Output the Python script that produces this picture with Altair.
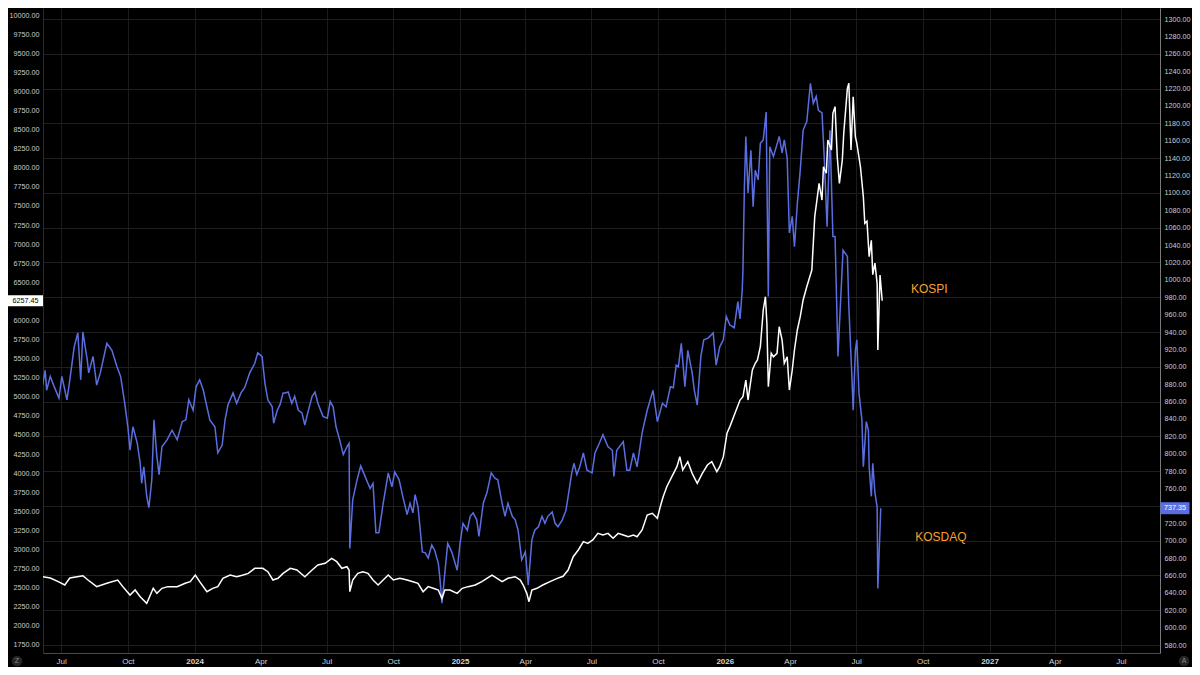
import altair as alt
import pandas as pd

# ---------------- data ----------------
# day offsets from 2023-05-30 and index levels
kosdaq_days = [0, 7, 10, 12, 17, 23, 29, 33, 40, 44, 50, 55, 59, 62, 68, 70, 76, 81, 86, 95,
               102, 109, 114, 119, 124, 127, 131, 137, 141, 143, 146, 150, 153, 157, 160, 164, 167, 171, 178, 185,
               192, 199, 204, 208, 214, 218, 223, 228, 233, 237, 244, 248, 254, 258, 262, 269, 274, 280, 285, 292,
               299, 303, 309, 313, 317, 323, 325, 330, 334, 338, 341, 345, 350, 354, 359, 364, 368, 372, 378, 382,
               386, 393, 399, 403, 407, 411, 416, 421, 426, 429, 430, 434, 440, 445, 451, 458, 462, 466, 470, 476,
               483, 488, 492, 498, 503, 509, 513, 517, 520, 524, 530, 534, 538, 543, 547, 552, 554, 557, 561, 565,
               571, 578, 582, 586, 592, 596, 600, 605, 608, 614, 619, 625, 630, 634, 640, 644, 648, 654, 658, 662,
               667, 672, 676, 681, 685, 690, 695, 699, 703, 709, 713, 717, 723, 728, 731, 736, 739, 743, 747, 752,
               757, 764, 768, 774, 779, 786, 792, 794, 798, 807, 812, 816, 821, 826, 833, 840, 848, 854, 861, 866,
               872, 876, 880, 883, 887, 892, 896, 902, 905, 909, 914, 918, 924, 931, 935, 940, 945, 949, 954, 960,
               965, 968, 971, 972, 974, 976, 979, 983, 986, 989, 993, 996, 1000, 1004, 1007, 1009, 1014, 1018, 1022, 1026,
               1029, 1033, 1036, 1040, 1043, 1047, 1051, 1055, 1060, 1065, 1069, 1073, 1076, 1081, 1084, 1088, 1092, 1096, 1099, 1103,
               1110, 1116, 1118, 1122, 1124, 1127, 1129, 1132, 1136, 1138, 1142, 1145, 1146, 1149, 1151, 1154, 1157, 1158, 1162]
kosdaq_vals = [866, 881, 896, 873, 889, 876, 864, 889, 862, 885, 923, 939, 885, 940, 908, 893, 912, 879, 893, 927,
               919, 900, 889, 862, 831, 804, 831, 812, 789, 766, 785, 751, 738, 770, 839, 797, 776, 808, 816, 827,
               816, 837, 839, 862, 850, 877, 885, 873, 854, 839, 831, 801, 810, 839, 856, 870, 858, 870, 876, 893,
               904, 916, 912, 881, 862, 854, 835, 850, 857, 870, 870, 871, 858, 866, 850, 847, 833, 847, 866, 871,
               858, 843, 841, 860, 854, 831, 816, 799, 808, 812, 691, 747, 770, 786, 774, 760, 766, 709, 709, 743,
               778, 762, 779, 770, 751, 730, 743, 732, 753, 739, 687, 686, 680, 695, 689, 674, 659, 628, 663, 697,
               686, 666, 697, 720, 712, 728, 732, 724, 705, 743, 755, 778, 772, 770, 743, 728, 743, 728, 724, 712,
               678, 687, 649, 701, 712, 716, 728, 720, 728, 733, 720, 716, 724, 735, 751, 778, 789, 776, 785, 801,
               781, 778, 801, 812, 822, 808, 804, 774, 804, 814, 781, 781, 801, 785, 824, 850, 873, 837, 858, 854,
               877, 876, 902, 900, 927, 877, 919, 893, 873, 856, 912, 931, 933, 939, 902, 923, 931, 958, 948, 945,
               975, 955, 988, 1011, 1107, 1165, 1100, 1149, 1084, 1126, 1115, 1157, 1161, 1193, 981, 1153, 1142, 1153, 1165, 1146,
               1161, 1140, 1054, 1073, 1038, 1088, 1126, 1172, 1182, 1226, 1203, 1211, 1195, 1192, 1142, 1061, 1172, 1050, 1050, 912,
               1034, 1027, 969, 893, 850, 919, 931, 870, 839, 785, 837, 827, 785, 751, 789, 755, 739, 645, 737.35]

kospi_days = [0, 7, 17, 28, 37, 44, 54, 62, 69, 81, 95, 110, 117, 127, 134, 141, 150, 154, 159, 164,
              171, 179, 192, 203, 210, 217, 223, 233, 241, 248, 255, 265, 274, 283, 290, 299, 310, 317, 324, 331,
              338, 348, 357, 368, 378, 386, 396, 405, 412, 419, 426, 429, 430, 434, 441, 448, 455, 462, 469, 476,
              483, 490, 499, 509, 517, 524, 531, 538, 545, 552, 557, 561, 568, 578, 585, 593, 603, 612, 619, 626,
              633, 640, 648, 658, 665, 669, 674, 677, 681, 688, 696, 706, 716, 724, 731, 738, 745, 752, 758, 765,
              772, 779, 786, 793, 800, 807, 814, 821, 826, 833, 840, 847, 854, 858, 862, 867, 874, 881, 885, 889,
              896, 902, 909, 916, 923, 929, 936, 940, 945, 950, 954, 961, 968, 972, 976, 979, 985, 989, 992, 996,
              1000, 1003, 1005, 1007, 1011, 1014, 1019, 1022, 1026, 1029, 1033, 1036, 1040, 1043, 1047, 1051, 1055, 1060, 1067, 1071,
              1074, 1077, 1081, 1083, 1087, 1089, 1094, 1096, 1099, 1102, 1105, 1109, 1111, 1116, 1118, 1121, 1124, 1127, 1129, 1134,
              1138, 1140, 1143, 1146, 1149, 1151, 1154, 1157, 1158, 1161, 1164]
kospi_vals = [2601, 2644, 2627, 2579, 2535, 2627, 2644, 2657, 2601, 2514, 2558, 2601, 2514, 2404, 2470, 2382, 2295, 2382, 2492, 2426,
              2492, 2514, 2514, 2558, 2579, 2666, 2579, 2448, 2492, 2514, 2623, 2666, 2644, 2666, 2688, 2754, 2754, 2710, 2601, 2623,
              2688, 2754, 2732, 2644, 2732, 2797, 2819, 2884, 2841, 2754, 2775, 2732, 2448, 2601, 2688, 2710, 2688, 2601, 2535, 2601,
              2666, 2601, 2623, 2601, 2579, 2558, 2448, 2514, 2492, 2470, 2361, 2470, 2470, 2426, 2492, 2514, 2535, 2579, 2623, 2666,
              2623, 2579, 2623, 2644, 2601, 2535, 2426, 2317, 2470, 2492, 2535, 2579, 2623, 2650, 2732, 2906, 2994, 3103, 3081, 3125,
              3212, 3190, 3212, 3147, 3212, 3190, 3168, 3190, 3168, 3256, 3452, 3474, 3408, 3561, 3692, 3823, 3954, 4085, 4216, 4042,
              4150, 3998, 3867, 3998, 4107, 4150, 4019, 4085, 4216, 4522, 4610, 4784, 4958, 5002, 5220, 4958, 5351, 5439, 5482, 5656,
              6137, 6311, 5962, 5132, 5570, 5525, 5570, 5918, 5744, 5439, 5525, 5089, 5351, 5613, 5875, 6049, 6268, 6442, 6660, 7359,
              7577, 7796, 7577, 8013, 7927, 8363, 8232, 8713, 8800, 8144, 7796, 8101, 8451, 9040, 9106, 8232, 8930, 8406, 8320, 8013,
              7620, 7272, 7300, 6835, 7050, 6600, 6750, 6486, 5613, 6595, 6257.45]

series_names = ["KOSPI", "KOSDAQ"]
series_label_days = [1229, 1245]
series_label_vals = [6412, 704]

kospi_ticks = list(range(1750, 10001, 250))
kosdaq_ticks = list(range(580, 1301, 20))
tick_years = [2023, 2023, 2024, 2024, 2024, 2024, 2025, 2025, 2025, 2025, 2026, 2026, 2026, 2026, 2027, 2027, 2027]
tick_months = [7, 10, 1, 4, 7, 10, 1, 4, 7, 10, 1, 4, 7, 10, 1, 4, 7]

# ---------------- frames ----------------
origin = pd.Timestamp("2023-05-30")


def to_dates(days):
    return origin + pd.to_timedelta(days, unit="D")


kosdaq_df = pd.DataFrame({"date": to_dates(kosdaq_days), "value": kosdaq_vals})
kospi_df = pd.DataFrame({"date": to_dates(kospi_days), "value": kospi_vals})
kospi_lab = pd.DataFrame({"date": to_dates(series_label_days[:1]), "value": series_label_vals[:1], "label": series_names[:1]})
kosdaq_lab = pd.DataFrame({"date": to_dates(series_label_days[1:]), "value": series_label_vals[1:], "label": series_names[1:]})
kospi_tag = pd.DataFrame({"value": [kospi_vals[-1]], "label": [f"{kospi_vals[-1]:.2f}"]})
kosdaq_tag = pd.DataFrame({"value": [kosdaq_vals[-1]], "label": [f"{kosdaq_vals[-1]:.2f}"]})

BLUE = "#5b6ee1"
WHITE = "#ffffff"
ORANGE = "#f5a033"
FONT = "Liberation Sans"
PLOT_W = 1117
PLOT_H = 645

x_scale = alt.Scale(domain=[alt.DateTime(year=2023, month=6, date=6),
                            alt.DateTime(year=2027, month=8, date=24)])
x_axis = alt.Axis(
    values=[alt.DateTime(year=y, month=m, date=1) for y, m in zip(tick_years, tick_months)],
    labelExpr="month(datum.value) == 0 ? timeFormat(datum.value, '%Y') : timeFormat(datum.value, '%b')",
    labelFontWeight={"condition": {"test": "month(datum.value) == 0", "value": "bold"}, "value": "normal"},
    labelFont=FONT, labelFontSize=8, labelColor="#d2d2d2", labelPadding=4, labelFlush=False,
    ticks=False, grid=True, gridColor="#1b1b1b", domainColor="#4a4a4a", labelOverlap=False,
)
X = alt.X("date:T", scale=x_scale, axis=x_axis, title=None)

kospi_axis = alt.Axis(
    orient="left", values=kospi_ticks, format=".2f", labelFont=FONT, labelFontSize=7.2,
    labelColor="#cccccc", labelPadding=4, ticks=False, grid=False, domainColor="#2a2a2a",
    labelOverlap=False,
)
kosdaq_axis = alt.Axis(
    orient="right", values=kosdaq_ticks, format=".2f", labelFont=FONT, labelFontSize=7.2,
    labelColor="#cccccc", labelPadding=4, ticks=False, grid=True, gridColor="#1f1f1f",
    gridOpacity={"condition": {"test": "datum.value % 40 == 20", "value": 1}, "value": 0},
    domainColor="#7a7a7a", labelOverlap=False,
)
Y_kospi = alt.Y("value:Q", scale=alt.Scale(domain=[1645, 10092], nice=False, zero=False),
                axis=kospi_axis, title=None)
Y_kosdaq = alt.Y("value:Q", scale=alt.Scale(domain=[570.8, 1312.7], nice=False, zero=False),
                 axis=kosdaq_axis, title=None)

# ---------------- KOSDAQ layer (right axis) ----------------
kosdaq_line = alt.Chart(kosdaq_df).mark_line(color=BLUE, strokeWidth=1.5, clip=True).encode(x=X, y=Y_kosdaq)
kosdaq_text = alt.Chart(kosdaq_lab).mark_text(color=ORANGE, font=FONT, fontSize=12, align="center",
                                              baseline="middle").encode(x=X, y=Y_kosdaq, text="label:N")
kosdaq_box = alt.Chart(kosdaq_tag).mark_point(shape="M-1,-0.414H1V0.414H-1Z", filled=True, size=841,
                                              color=BLUE, opacity=1, strokeWidth=0).encode(
    x=alt.value(PLOT_W + 15), y=Y_kosdaq)
kosdaq_tag_text = alt.Chart(kosdaq_tag).mark_text(color="#ffffff", font=FONT, fontSize=7.2, align="center",
                                                  baseline="middle").encode(
    x=alt.value(PLOT_W + 15), y=Y_kosdaq, text="label:N")
kosdaq_layer = alt.layer(kosdaq_line, kosdaq_text, kosdaq_box, kosdaq_tag_text)

# ---------------- KOSPI layer (left axis) ----------------
kospi_line = alt.Chart(kospi_df).mark_line(color=WHITE, strokeWidth=1.5, clip=True).encode(x=X, y=Y_kospi)
kospi_text = alt.Chart(kospi_lab).mark_text(color=ORANGE, font=FONT, fontSize=12, align="center",
                                            baseline="middle").encode(x=X, y=Y_kospi, text="label:N")
kospi_box = alt.Chart(kospi_tag).mark_point(shape="M-1,-0.314H1V0.314H-1Z", filled=True, size=1225,
                                            color="#ffffff", opacity=1, strokeWidth=0).encode(
    x=alt.value(-17.5), y=Y_kospi)
kospi_tag_text = alt.Chart(kospi_tag).mark_text(color="#000000", font=FONT, fontSize=7.2, align="center",
                                                baseline="middle").encode(
    x=alt.value(-17.5), y=Y_kospi, text="label:N")
kospi_layer = alt.layer(kospi_line, kospi_text, kospi_box, kospi_tag_text)

# ---------------- corner badges ----------------
badge_df_z = pd.DataFrame({"t": ["Z"]})
badge_df_a = pd.DataFrame({"t": ["A"]})
badge_z = alt.Chart(badge_df_z).mark_point(shape="circle", filled=True, size=110, color="#262626",
                                           opacity=1).encode(x=alt.value(-26), y=alt.value(PLOT_H + 8))
badge_z_t = alt.Chart(badge_df_z).mark_text(color="#8a8a8a", font=FONT, fontSize=7, align="center",
                                            baseline="middle").encode(x=alt.value(-26), y=alt.value(PLOT_H + 8),
                                                                      text="t:N")
badge_a = alt.Chart(badge_df_a).mark_point(shape="circle", filled=True, size=110, color="#262626",
                                           opacity=1).encode(x=alt.value(PLOT_W + 24), y=alt.value(PLOT_H + 8))
badge_a_t = alt.Chart(badge_df_a).mark_text(color="#8a8a8a", font=FONT, fontSize=7, align="center",
                                            baseline="middle").encode(x=alt.value(PLOT_W + 24),
                                                                      y=alt.value(PLOT_H + 8), text="t:N")

chart = alt.layer(
    kosdaq_layer, kospi_layer, badge_z, badge_z_t, badge_a, badge_a_t
).resolve_scale(y="independent").properties(
    width=PLOT_W, height=PLOT_H,
    autosize=alt.AutoSizeParams(type="none"),
    padding={"left": 35, "top": 0, "right": 32, "bottom": 14},
).configure(background="#000000").configure_view(strokeWidth=0)

chart.save("out.html", embed_options={"renderer": "svg", "actions": False})
